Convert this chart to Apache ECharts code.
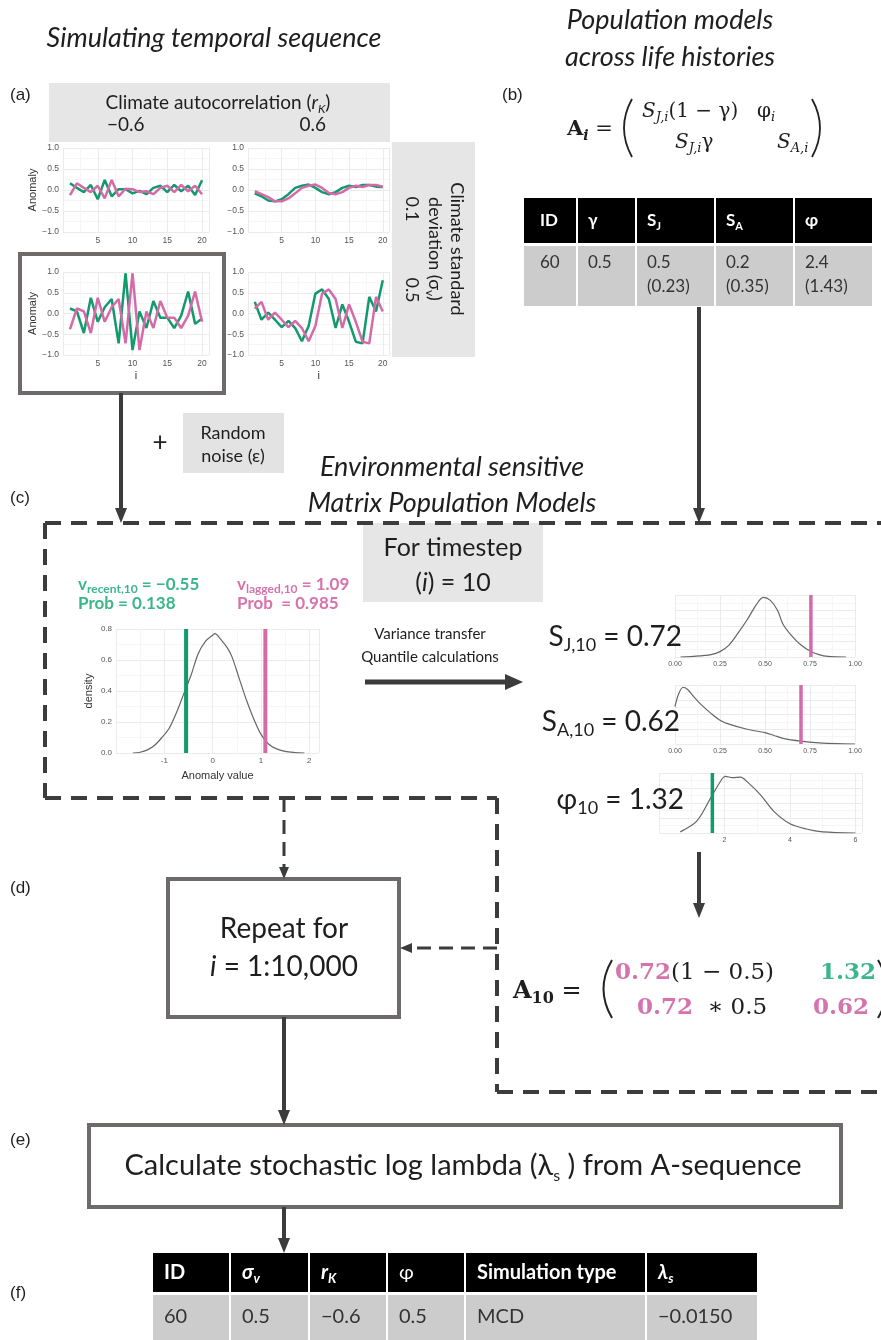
<!DOCTYPE html>
<html>
<head>
<meta charset="utf-8">
<script src="https://cdn.jsdelivr.net/npm/echarts@6/dist/echarts.min.js"></script>
<style>
html,body{margin:0;padding:0;background:#fff}
#chart{width:881px;height:1340px}
</style>
</head>
<body>
<div id="chart"></div>
<script>
// ---- data ----
var steps = [1,2,3,4,5,6,7,8,9,10,11,12,13,14,15,16,17,18,19,20];
// (a) anomaly panels: sd 0.1 / 0.5, autocorrelation -0.6 / 0.6
var lowNegRecent = [0.16,0.05,-0.05,0.12,-0.22,0.24,-0.15,0.02,0.02,-0.08,-0.02,-0.1,0.05,0.1,-0.05,0.12,-0.03,0.1,-0.12,0.23];
var lowNegLagged = [-0.12,0.16,0.05,-0.05,0.1,-0.2,0.24,-0.15,0.03,0.02,-0.05,-0.03,-0.1,0.05,0.1,-0.05,0.12,-0.03,0.1,-0.1];
var lowPosRecent = [-0.08,-0.15,-0.25,-0.27,-0.22,-0.1,0.05,0.1,0.13,0.05,-0.05,-0.1,-0.05,0.05,0.1,0.07,0.12,0.12,0.08,0.07];
var lowPosLagged = [-0.03,-0.1,-0.17,-0.27,-0.27,-0.2,-0.08,0.05,0.1,0.13,0.05,-0.07,-0.1,-0.05,0.05,0.1,0.07,0.12,0.12,0.08];
var highNegRecent = [0.12,0.05,-0.47,0.38,-0.2,0.15,0.35,-0.72,0.97,-0.88,0.05,-0.35,0.3,-0.1,-0.1,-0.35,-0.05,0.53,-0.25,-0.12];
var highNegLagged = [-0.38,0.12,0.05,-0.47,0.38,-0.2,0.15,0.35,-0.72,0.97,-0.88,0.05,-0.35,0.3,-0.1,-0.1,-0.35,-0.05,0.53,-0.2];
var highPosRecent = [0.28,-0.15,0.02,-0.15,-0.33,-0.18,-0.35,-0.67,-0.3,0.48,0.58,0.35,-0.35,0.22,-0.2,-0.68,-0.72,0.4,0.05,0.8];
var highPosLagged = [0.12,0.28,-0.15,0.02,-0.15,-0.33,-0.18,-0.35,-0.67,-0.3,0.48,0.58,0.35,-0.35,0.22,-0.2,-0.68,-0.72,0.4,0.05];

// (c) anomaly density
var densX = [-1.65,-1.5,-1.35,-1.2,-1.05,-0.9,-0.75,-0.6,-0.45,-0.3,-0.15,0,0.05,0.15,0.3,0.4,0.55,0.7,0.85,1.0,1.15,1.3,1.5,1.7,1.9];
var densY = [0,0.005,0.02,0.05,0.1,0.16,0.26,0.38,0.5,0.64,0.72,0.76,0.77,0.74,0.68,0.62,0.48,0.34,0.22,0.12,0.06,0.03,0.01,0.003,0];
var vRecentMark = -0.55, vLaggedMark = 1.09;

// parameter distributions (relative density)
var sjX = [0.03,0.1,0.2,0.25,0.3,0.35,0.4,0.45,0.49,0.53,0.57,0.6,0.65,0.7,0.75,0.8,0.85,0.95];
var sjY = [0,0.01,0.04,0.09,0.2,0.4,0.62,0.87,1.0,0.95,0.78,0.55,0.35,0.2,0.1,0.04,0.01,0];
var saX = [0,0.02,0.045,0.07,0.1,0.15,0.2,0.25,0.3,0.4,0.5,0.55,0.6,0.7,0.8,0.9,1.0];
var saY = [0.66,0.88,1.0,0.96,0.85,0.68,0.54,0.42,0.35,0.26,0.2,0.15,0.1,0.05,0.02,0.005,0];
var phiX = [0.65,1.16,1.63,1.93,2.03,2.25,2.49,2.69,3.1,3.5,4.0,4.5,5.0,6.0];
var phiY = [0.02,0.21,0.66,0.94,0.98,0.96,0.97,0.89,0.66,0.38,0.16,0.07,0.02,0];
var sjMark = 0.755, saMark = 0.7, phiMark = 1.63;

// tables
var tableBHead = ['ID','γ','S|J','S|A','φ'];
var tableBTop = ['60','0.5','0.5','0.2','2.4'];
var tableBBottom = ['','','(0.23)','(0.35)','(1.43)'];
var tableFHead = ['ID','σ|v','r|K','φ','Simulation type','λ|s'];
var tableFRow = ['60','0.5','−0.6','0.5','MCD','−0.0150'];

// ---- styling ----
var GREEN = '#12996d', PINK = '#d56aa9', GREEN_TXT = '#3bb68a', PINK_TXT = '#d673ad';
var DARK = '#3c3c3c', FRAME = '#6e6a6a';
var CAL = 'Lato, "Open Sans", sans-serif';
var SERIF = '"DejaVu Serif", serif';
var ARIAL = '"Liberation Sans", Arial, sans-serif';

var chart = echarts.init(document.getElementById('chart'));

var grids = [
  {left:63, top:148, width:146, height:84},
  {left:248, top:148, width:141.5, height:84},
  {left:63, top:272, width:146, height:83},
  {left:248, top:272, width:141.5, height:83},
  {left:116, top:629, width:203, height:124},
  {left:675, top:595, width:180, height:62},
  {left:675, top:685, width:180, height:59},
  {left:659, top:773, width:203, height:60}
];
grids.forEach(function(g){ g.containLabel = false; g.outerBoundsMode = 'none'; });

function minus(v){ return String(v).replace('-', '−'); }
function ax(i, o){
  return {
    type:'value', gridIndex:i, min:o.min, max:o.max, interval:o.interval,
    axisLine:{show:false}, axisTick:{show:false},
    minorTick:{show:false, splitNumber:2},
    splitLine:{show:true, lineStyle:{color:'#ebebeb', width:1}},
    minorSplitLine:{show:true, lineStyle:{color:'#f6f6f6', width:1}},
    axisLabel:{show:o.label !== false, fontSize:o.fs || 8.5, color:'#555', fontFamily:ARIAL, margin:4, formatter:o.fmt},
    name:o.name || '', nameLocation:'middle', nameGap:o.gap || 16, nameRotate:o.rot || 0,
    nameTextStyle:{fontSize:o.nfs || 11, color:'#333', fontFamily:ARIAL}
  };
}
var xAxes = [], yAxes = [];
for (var k = 0; k < 4; k++) {
  xAxes.push(ax(k, {min:0, max:21, interval:5, name:k >= 2 ? 'i' : '', gap:15,
    fmt:function(v){ return v === 0 ? '' : v; }}));
  yAxes.push(ax(k, {min:-1, max:1, interval:0.5, name:(k % 2 === 0) ? 'Anomaly' : '', gap:25, rot:90,
    fmt:function(v){ return minus(v.toFixed(1)); }}));
}
xAxes.push(ax(4, {min:-2, max:2.2, interval:1, name:'Anomaly value', gap:17, fs:8,
  fmt:function(v){ return (v === -2 || v % 1 !== 0) ? '' : v; }}));
yAxes.push(ax(4, {min:0, max:0.8, interval:0.2, name:'density', gap:22, rot:90, fs:8,
  fmt:function(v){ return v.toFixed(1); }}));
xAxes.push(ax(5, {min:0, max:1, interval:0.25, fs:7, fmt:function(v){ return v.toFixed(2); }}));
yAxes.push(ax(5, {min:0, max:1.04, interval:0.26, label:false}));
xAxes.push(ax(6, {min:0, max:1, interval:0.25, fs:7, fmt:function(v){ return v.toFixed(2); }}));
yAxes.push(ax(6, {min:0, max:1.04, interval:0.26, label:false}));
xAxes.push(ax(7, {min:0, max:6.2, interval:2, fs:7, fmt:function(v){ return (v === 0 || v % 2 !== 0) ? '' : v; }}));
yAxes.push(ax(7, {min:0, max:1.04, interval:0.26, label:false}));

function pairs(xs, ys){ return xs.map(function(x, j){ return [x, ys[j]]; }); }
function lineSeries(i, data, color, width, smooth){
  return {type:'line', xAxisIndex:i, yAxisIndex:i, data:data, showSymbol:false, symbol:'none',
    smooth:smooth || false, silent:true, animation:false,
    lineStyle:{color:color, width:width}};
}
var series = [
  lineSeries(0, pairs(steps, lowNegRecent), GREEN, 2.5),
  lineSeries(0, pairs(steps, lowNegLagged), PINK, 2.5),
  lineSeries(1, pairs(steps, lowPosRecent), GREEN, 2.5),
  lineSeries(1, pairs(steps, lowPosLagged), PINK, 2.5),
  lineSeries(2, pairs(steps, highNegRecent), GREEN, 2.5),
  lineSeries(2, pairs(steps, highNegLagged), PINK, 2.5),
  lineSeries(3, pairs(steps, highPosRecent), GREEN, 2.5),
  lineSeries(3, pairs(steps, highPosLagged), PINK, 2.5),
  lineSeries(4, pairs(densX, densY), '#666', 1.2, 0.3),
  lineSeries(4, [[vRecentMark, 0], [vRecentMark, 0.8]], GREEN, 4),
  lineSeries(4, [[vLaggedMark, 0], [vLaggedMark, 0.8]], PINK, 4),
  lineSeries(5, pairs(sjX, sjY), '#666', 1.2, 0.3),
  lineSeries(5, [[sjMark, 0], [sjMark, 1.04]], PINK, 3.5),
  lineSeries(6, pairs(saX, saY), '#666', 1.2, 0.3),
  lineSeries(6, [[saMark, 0], [saMark, 1.04]], PINK, 3.5),
  lineSeries(7, pairs(phiX, phiY), '#666', 1.2, 0.3),
  lineSeries(7, [[phiMark, 0], [phiMark, 1.04]], GREEN, 3.5)
];

// ---- drawing helpers for the diagram parts ----
var els = [];
function st(size, o){
  o = o || {};
  return {fontSize:size, fontFamily:o.ff || CAL, fontStyle:o.it ? 'italic' : 'normal',
    fontWeight:o.b ? 'bold' : 'normal', fill:o.c || '#1e1e1e',
    lineHeight:o.lh || Math.round(size * 1.25), verticalAlign:o.va || 'middle'};
}
function T(x, y, text, size, o){
  o = o || {};
  els.push({type:'text', x:x, y:y, rotation:o.rot || 0, z:10, silent:true,
    style:Object.assign(st(size, o), {text:text, align:o.al || 'left', verticalAlign:'middle'})});
}
// rich text: parts = [[text, styleObj], ...]
function R(x, y, parts, o){
  o = o || {};
  var rich = {}, s = '';
  parts.forEach(function(p, j){ rich['p' + j] = p[1]; s += '{p' + j + '|' + p[0] + '}'; });
  els.push({type:'text', x:x, y:y, rotation:o.rot || 0, z:10, silent:true,
    style:{text:s, rich:rich, align:o.al || 'left', verticalAlign:'middle', fill:'#1e1e1e'}});
}
function sub(size, o){ o = o || {}; o.va = 'bottom'; o.lh = size; return st(size, o); }
function rect(x, y, w, h, fill, stroke, lw){
  els.push({type:'rect', z:1, silent:true, shape:{x:x, y:y, width:w, height:h},
    style:{fill:fill || 'none', stroke:stroke || null, lineWidth:lw || 0}});
}
function seg(x1, y1, x2, y2, lw, dash){
  els.push({type:'line', z:2, silent:true, shape:{x1:x1, y1:y1, x2:x2, y2:y2},
    style:{stroke:DARK, lineWidth:lw, lineDash:dash || null, lineCap:'butt'}});
}
function arrow(x1, y1, x2, y2, lw, hl, hw, dash){
  var dx = x2 - x1, dy = y2 - y1, L = Math.sqrt(dx * dx + dy * dy);
  var ux = dx / L, uy = dy / L, bx = x2 - ux * hl, by = y2 - uy * hl, px = -uy, py = ux;
  seg(x1, y1, bx, by, lw, dash);
  els.push({type:'polygon', z:2, silent:true,
    shape:{points:[[x2, y2], [bx + px * hw, by + py * hw], [bx - px * hw, by - py * hw]]},
    style:{fill:DARK}});
}
function paren(x, y1, y2, bulge, lw){
  els.push({type:'bezierCurve', z:2, silent:true,
    shape:{x1:x, y1:y1, x2:x, y2:y2, cpx1:x + bulge, cpy1:(y1 + y2) / 2},
    style:{stroke:'#222', lineWidth:lw, fill:null}});
}

// titles and panel letters
T(214, 38, 'Simulating temporal sequence', 27, {it:1, al:'center'});
T(670, 20, 'Population models', 27, {it:1, al:'center'});
T(670, 57, 'across life histories', 27, {it:1, al:'center'});
[['(a)', 95], ['(c)', 498], ['(d)', 888], ['(e)', 1140], ['(f)', 1293]].forEach(function(p){
  T(10, p[1], p[0], 17, {ff:ARIAL});
});
T(502, 95, '(b)', 17, {ff:ARIAL});

// (a) facet strips
rect(49, 83, 341, 59, '#e6e6e6');
R(218, 103, [['Climate autocorrelation (', st(19)], ['r', st(19, {it:1})], ['K', sub(12, {it:1})], [')', st(19)]], {al:'center'});
T(107, 125, '−0.6', 19);
T(326, 125, '0.6', 19, {al:'right'});
rect(392, 142, 83, 215, '#e6e6e6');
var down = -Math.PI / 2;
T(457, 249, 'Climate standard', 18, {rot:down, al:'center'});
R(435, 249, [['deviation (σ', st(18)], ['v', sub(12)], [')', st(18)]], {rot:down, al:'center'});
T(412, 209, '0.1', 18, {rot:down, al:'center'});
T(412, 290, '0.5', 18, {rot:down, al:'center'});
rect(20, 254, 204, 139, null, FRAME, 4);

// arrows into (c)
arrow(121, 393, 121, 523, 4, 15, 6);
arrow(699, 307, 699, 523, 4, 15, 6);
T(160, 443, '+', 26, {al:'center'});
rect(183, 413, 101, 60, '#e3e3e3');
T(233, 433, 'Random', 18, {al:'center'});
T(233, 456, 'noise (ε)', 18, {al:'center'});
T(452, 467, 'Environmental sensitive', 27, {it:1, al:'center'});
T(452, 503, 'Matrix Population Models', 27, {it:1, al:'center'});

// (b) matrix
R(567, 130, [['A', st(21, {ff:SERIF, b:1})], ['i', sub(14, {ff:SERIF, it:1, b:1})], [' =', st(21, {ff:SERIF})]]);
paren(632, 99, 157, -16, 1.8);
paren(812, 99, 157, 16, 1.8);
R(642, 112, [['S', st(20, {ff:SERIF, it:1})], ['J,i', sub(13, {ff:SERIF, it:1})], ['(1 − γ)', st(20, {ff:SERIF})]]);
R(757, 112, [['φ', st(20, {ff:SERIF})], ['i', sub(13, {ff:SERIF, it:1})]]);
R(675, 143, [['S', st(20, {ff:SERIF, it:1})], ['J,i', sub(13, {ff:SERIF, it:1})], ['γ', st(20, {ff:SERIF})]]);
R(777, 143, [['S', st(20, {ff:SERIF, it:1})], ['A,i', sub(13, {ff:SERIF, it:1})]]);

// (b) table
var colsB = [523, 577, 636, 715, 794, 873];
for (var c = 0; c < 5; c++) {
  var x0 = colsB[c], w = colsB[c + 1] - colsB[c];
  rect(x0 + 1, 198, w - 2, 45, '#000');
  rect(x0 + 1, 246, w - 2, 60, '#cccccc');
  var pad = c === 0 ? 17 : 11;
  var hp = tableBHead[c].split('|');
  if (hp.length > 1) R(x0 + pad, 221, [[hp[0], st(17, {b:1, c:'#fff'})], [hp[1], sub(11, {b:1, c:'#fff'})]]);
  else T(x0 + pad, 221, hp[0], 17, {b:1, c:'#fff'});
  T(x0 + pad, 263, tableBTop[c], 17, {c:'#333'});
  if (tableBBottom[c]) T(x0 + pad, 287, tableBBottom[c], 17, {c:'#333'});
}

// (c) dashed region
var dash = [16, 10];
seg(45, 523, 881, 523, 4, dash);
seg(45, 523, 45, 798, 4, dash);
seg(45, 798, 497, 798, 4, dash);
seg(497, 798, 497, 1092, 4, dash);
seg(497, 1092, 881, 1092, 4, dash);
arrow(284, 798, 284, 879, 3, 12, 5, [14, 8]);
arrow(497, 948, 400, 948, 3, 12, 5, [14, 8]);

rect(363, 523, 180, 79, '#e6e6e6');
T(453, 548, 'For timestep', 25, {al:'center'});
R(453, 583, [['(', st(25)], ['i', st(25, {it:1})], [') = 10', st(25)]], {al:'center'});

R(78, 585, [['v', st(17, {b:1, c:GREEN_TXT})], ['recent,10', sub(12, {b:1, c:GREEN_TXT})], [' = −0.55', st(17, {b:1, c:GREEN_TXT})]]);
T(78, 604, 'Prob = 0.138', 17, {b:1, c:GREEN_TXT});
R(237, 585, [['v', st(17, {b:1, c:PINK_TXT})], ['lagged,10', sub(12, {b:1, c:PINK_TXT})], [' = 1.09', st(17, {b:1, c:PINK_TXT})]]);
T(237, 604, 'Prob  = 0.985', 17, {b:1, c:PINK_TXT});

T(430, 634, 'Variance transfer', 15, {al:'center'});
T(430, 657, 'Quantile calculations', 15, {al:'center'});
arrow(365, 682, 523, 682, 5, 18, 8);

R(682, 637, [['S', st(28)], ['J,10', sub(18)], [' = 0.72', st(28)]], {al:'right'});
R(680, 722, [['S', st(28)], ['A,10', sub(18)], [' = 0.62', st(28)]], {al:'right'});
R(684, 800, [['φ', st(28)], ['10', sub(18)], [' = 1.32', st(28)]], {al:'right'});
arrow(699, 852, 699, 918, 4, 15, 6);

// A10 matrix
R(513, 992, [['A', st(24, {ff:SERIF, b:1})], ['10', sub(16, {ff:SERIF, b:1})], [' =', st(24, {ff:SERIF})]]);
paren(612, 960, 1018, -17, 2);
paren(878, 960, 1018, 17, 2);
R(615, 973, [['0.72', st(23, {ff:SERIF, b:1, c:PINK_TXT})], ['(1 − 0.5)', st(23, {ff:SERIF})]]);
T(820, 973, '1.32', 23, {ff:SERIF, b:1, c:GREEN_TXT});
R(637, 1008, [['0.72', st(23, {ff:SERIF, b:1, c:PINK_TXT})], ['  ∗ 0.5', st(23, {ff:SERIF})]]);
T(813, 1008, '0.62', 23, {ff:SERIF, b:1, c:PINK_TXT});

// (d) repeat box
rect(168, 879, 231, 138, '#fff', FRAME, 4);
T(284, 929, 'Repeat for', 28, {al:'center'});
R(284, 967, [['i', st(28, {it:1})], [' = 1:10,000', st(28)]], {al:'center'});
arrow(284, 1017, 284, 1125, 4, 15, 6);

// (e)
rect(89, 1125, 752, 82, '#fff', FRAME, 4);
R(463, 1166, [['Calculate stochastic log lambda (λ', st(29)], ['s', sub(16)], [' ) from A-sequence', st(29)]], {al:'center'});
arrow(284, 1207, 284, 1253, 4, 15, 6);

// (f) table
var colsF = [152, 230, 309, 387, 465, 646, 758];
for (var f = 0; f < 6; f++) {
  var fx = colsF[f], fw = colsF[f + 1] - colsF[f];
  rect(fx + 1, 1253, fw - 2, 39, '#000');
  rect(fx + 1, 1295, fw - 2, 45, '#cccccc');
  var hf = tableFHead[f].split('|');
  var italicHead = (f === 1 || f === 2 || f === 5);
  if (hf.length > 1) R(fx + 12, 1273, [[hf[0], st(20, {b:1, it:italicHead, c:'#fff'})], [hf[1], sub(13, {b:1, it:italicHead, c:'#fff'})]]);
  else T(fx + 12, 1273, hf[0], 20, {b:f !== 3, c:'#fff'});
  T(fx + 12, 1317, tableFRow[f], 20, {c:'#333'});
}

chart.setOption({
  animation:false,
  backgroundColor:'#ffffff',
  grid:grids,
  xAxis:xAxes,
  yAxis:yAxes,
  series:series,
  graphic:{elements:els}
});
</script>
</body>
</html>
